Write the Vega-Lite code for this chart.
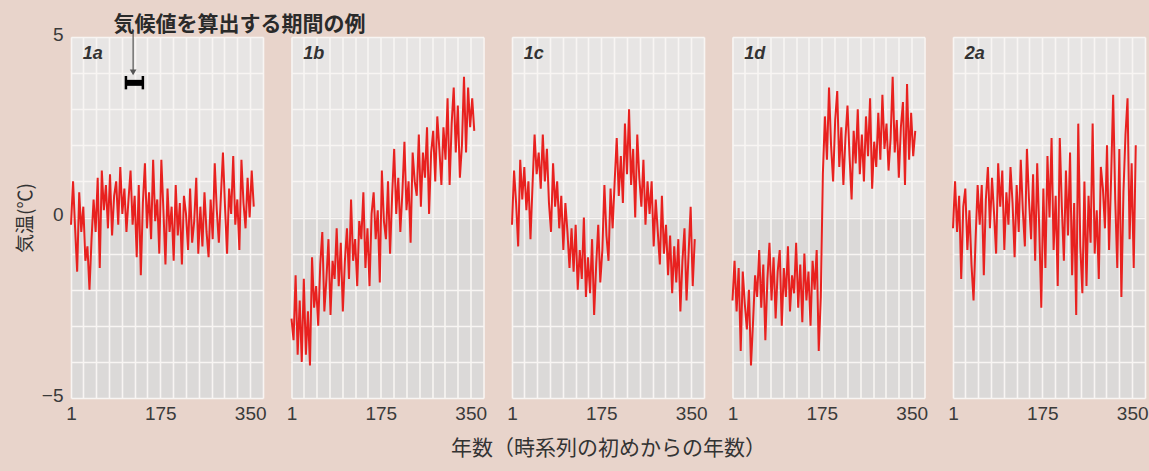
{
  "$schema": "https://vega.github.io/schema/vega-lite/v6.json",
  "background": "#e8d4cb",
  "padding": {"left": 16, "top": 14, "right": 20, "bottom": 30},
  "spacing": 28.5,
  "bounds": "flush",
  "config": {
    "view": {"stroke": null, "fill": {"gradient": "linear", "x1": 0, "y1": 0, "x2": 0, "y2": 1, "stops": [{"offset": 0, "color": "#e7e5e4"}, {"offset": 0.5, "color": "#e7e5e4"}, {"offset": 0.5, "color": "#dbd9d8"}, {"offset": 1, "color": "#dbd9d8"}]}},
    "axis": {"domain": false, "ticks": false, "grid": true, "gridColor": "#f8f5f3", "gridWidth": 1.6, "gridOpacity": 1, "tickCount": 100,
      "labelFont": "Liberation Sans Narrow, Liberation Sans", "labelFontSize": 19, "labelColor": "#3a3a3a", "labelOverlap": false, "labelFlush": false, "labelBound": false,
      "titleFont": "Noto Sans CJK JP", "titleColor": "#333333", "titleFontWeight": "normal"}
  },
  "datasets": {
    "t": [
      {"x":1,"a":-0.2,"b":-2.8,"c":-0.2,"d":-2.3,"e":-0.3},
      {"x":5,"a":1.0,"b":-3.4,"c":1.3,"d":-1.2,"e":1.0},
      {"x":9,"a":-0.3,"b":-1.6,"c":0.4,"d":-2.6,"e":-0.4},
      {"x":13,"a":-1.5,"b":-3.8,"c":-0.8,"d":-1.4,"e":0.6},
      {"x":17,"a":0.7,"b":-2.3,"c":1.6,"d":-3.7,"e":-1.7},
      {"x":21,"a":-0.4,"b":-4.0,"c":0.5,"d":-1.5,"e":0.3},
      {"x":25,"a":0.3,"b":-1.7,"c":1.4,"d":-2.4,"e":0.8},
      {"x":29,"a":-1.2,"b":-3.8,"c":0.2,"d":-3.1,"e":-0.9},
      {"x":33,"a":-0.8,"b":-2.6,"c":1.0,"d":-2.0,"e":0.2},
      {"x":37,"a":-2.0,"b":-4.1,"c":-0.6,"d":-4.1,"e":-1.3},
      {"x":41,"a":-0.6,"b":-1.1,"c":0.9,"d":-2.9,"e":-2.3},
      {"x":45,"a":0.5,"b":-2.5,"c":2.3,"d":-1.6,"e":-0.6},
      {"x":49,"a":-0.4,"b":-1.9,"c":1.2,"d":-2.2,"e":0.9},
      {"x":53,"a":1.1,"b":-3.0,"c":1.8,"d":-0.9,"e":-0.2},
      {"x":57,"a":-1.4,"b":-1.3,"c":0.8,"d":-2.5,"e":0.9},
      {"x":61,"a":1.3,"b":-0.4,"c":2.3,"d":-1.3,"e":-1.6},
      {"x":65,"a":0.2,"b":-2.6,"c":1.0,"d":-3.4,"e":0.5},
      {"x":69,"a":0.9,"b":-1.7,"c":1.9,"d":-1.7,"e":1.4},
      {"x":73,"a":-0.3,"b":-0.6,"c":0.4,"d":-0.7,"e":-0.3},
      {"x":77,"a":1.2,"b":-2.7,"c":-0.4,"d":-2.3,"e":1.1},
      {"x":81,"a":-0.5,"b":-1.2,"c":1.5,"d":-1.1,"e":0.1},
      {"x":85,"a":0.6,"b":-1.7,"c":0.3,"d":-2.8,"e":-1.0},
      {"x":89,"a":1.0,"b":-0.3,"c":1.0,"d":-1.5,"e":1.5},
      {"x":93,"a":-0.2,"b":-1.9,"c":-0.3,"d":-0.9,"e":0.3},
      {"x":97,"a":1.4,"b":-0.7,"c":0.6,"d":-3.0,"e":1.3},
      {"x":101,"a":0.1,"b":-2.6,"c":-0.9,"d":-1.4,"e":-0.9},
      {"x":105,"a":0.8,"b":-1.2,"c":0.4,"d":-2.2,"e":0.7},
      {"x":109,"a":-0.4,"b":-0.3,"c":-0.4,"d":-0.8,"e":-0.2},
      {"x":113,"a":0.5,"b":-1.7,"c":-1.4,"d":-2.6,"e":1.4},
      {"x":117,"a":1.3,"b":0.5,"c":-0.3,"d":-1.6,"e":0.4},
      {"x":121,"a":-0.2,"b":-1.2,"c":-1.5,"d":-2.1,"e":-1.1},
      {"x":125,"a":0.6,"b":-0.6,"c":-0.2,"d":-0.7,"e":0.9},
      {"x":129,"a":-1.1,"b":-1.9,"c":-2.0,"d":-2.5,"e":-0.4},
      {"x":133,"a":0.9,"b":-0.1,"c":-0.9,"d":-1.3,"e":1.6},
      {"x":137,"a":-1.6,"b":-0.6,"c":-1.7,"d":-2.9,"e":0.2},
      {"x":141,"a":0.4,"b":0.7,"c":0.0,"d":-1.0,"e":-0.8},
      {"x":145,"a":1.5,"b":-1.4,"c":-2.2,"d":-2.3,"e":1.9},
      {"x":149,"a":-0.3,"b":-0.3,"c":-1.1,"d":-1.5,"e":0.5},
      {"x":153,"a":0.7,"b":-1.9,"c":-2.1,"d":-3.0,"e":-0.6},
      {"x":157,"a":-0.6,"b":0.1,"c":-0.6,"d":-1.2,"e":1.2},
      {"x":161,"a":1.6,"b":0.7,"c":-2.7,"d":-2.0,"e":-1.2},
      {"x":165,"a":-0.1,"b":-0.6,"c":-1.3,"d":-0.9,"e":1.5},
      {"x":169,"a":0.5,"b":0.2,"c":-0.2,"d":-3.7,"e":-0.3},
      {"x":173,"a":-1.0,"b":-1.8,"c":-1.8,"d":-2.2,"e":-2.5},
      {"x":177,"a":1.6,"b":1.3,"c":-0.9,"d":1.2,"e":0.8},
      {"x":181,"a":0.2,"b":-0.1,"c":0.9,"d":2.8,"e":-1.4},
      {"x":185,"a":-1.3,"b":-0.6,"c":-0.5,"d":1.6,"e":1.7},
      {"x":189,"a":0.8,"b":1.0,"c":-1.2,"d":3.6,"e":0.0},
      {"x":193,"a":-0.4,"b":-1.0,"c":0.8,"d":2.0,"e":2.2},
      {"x":197,"a":0.3,"b":0.6,"c":-0.3,"d":1.0,"e":-0.9},
      {"x":201,"a":-1.2,"b":1.9,"c":1.0,"d":2.7,"e":0.6},
      {"x":205,"a":0.9,"b":0.1,"c":2.2,"d":3.5,"e":-1.9},
      {"x":209,"a":-0.5,"b":1.1,"c":0.6,"d":1.4,"e":2.2},
      {"x":213,"a":0.4,"b":-0.4,"c":1.7,"d":2.5,"e":0.3},
      {"x":217,"a":-1.3,"b":0.7,"c":0.4,"d":0.9,"e":-1.2},
      {"x":221,"a":0.6,"b":2.1,"c":2.6,"d":2.2,"e":1.3},
      {"x":225,"a":0.1,"b":0.2,"c":1.2,"d":3.1,"e":-0.5},
      {"x":229,"a":-0.9,"b":1.0,"c":3.0,"d":1.7,"e":1.8},
      {"x":233,"a":0.8,"b":-0.7,"c":0.9,"d":0.5,"e":-1.6},
      {"x":237,"a":-0.7,"b":1.8,"c":1.9,"d":2.4,"e":0.4},
      {"x":241,"a":-0.1,"b":1.0,"c":0.0,"d":1.5,"e":-2.7},
      {"x":245,"a":1.1,"b":0.6,"c":2.3,"d":3.0,"e":2.6},
      {"x":249,"a":-1.0,"b":2.3,"c":1.1,"d":1.2,"e":-0.8},
      {"x":253,"a":0.3,"b":0.3,"c":0.3,"d":2.3,"e":-2.1},
      {"x":257,"a":-0.8,"b":1.8,"c":1.6,"d":1.0,"e":1.0},
      {"x":261,"a":0.7,"b":1.1,"c":-0.2,"d":2.8,"e":-1.9},
      {"x":265,"a":-0.4,"b":2.5,"c":1.0,"d":1.7,"e":0.6},
      {"x":269,"a":-1.1,"b":0.1,"c":0.1,"d":3.3,"e":-0.7},
      {"x":273,"a":0.5,"b":1.8,"c":1.0,"d":0.8,"e":2.6},
      {"x":277,"a":-0.6,"b":2.4,"c":-0.8,"d":2.1,"e":-1.0},
      {"x":281,"a":1.5,"b":1.0,"c":0.5,"d":1.4,"e":0.2},
      {"x":285,"a":0.2,"b":2.8,"c":-0.4,"d":2.9,"e":-1.7},
      {"x":289,"a":-0.7,"b":1.9,"c":-1.3,"d":1.6,"e":1.4},
      {"x":293,"a":0.6,"b":0.9,"c":0.6,"d":3.4,"e":0.8},
      {"x":297,"a":1.8,"b":2.5,"c":-1.0,"d":1.9,"e":-0.3},
      {"x":301,"a":0.3,"b":1.6,"c":-0.2,"d":2.6,"e":2.0},
      {"x":305,"a":-1.0,"b":3.3,"c":-1.6,"d":1.3,"e":-0.9},
      {"x":309,"a":0.8,"b":0.9,"c":-0.5,"d":2.2,"e":1.1},
      {"x":313,"a":0.1,"b":2.6,"c":-2.1,"d":3.9,"e":3.4},
      {"x":317,"a":1.7,"b":3.6,"c":-0.8,"d":1.8,"e":0.5},
      {"x":321,"a":-0.2,"b":1.8,"c":-1.8,"d":2.7,"e":-1.4},
      {"x":325,"a":0.5,"b":3.1,"c":-0.6,"d":1.1,"e":1.9},
      {"x":329,"a":-0.9,"b":1.1,"c":-2.6,"d":2.5,"e":-2.2},
      {"x":333,"a":1.6,"b":2.0,"c":-1.2,"d":3.2,"e":0.7},
      {"x":337,"a":0.4,"b":3.9,"c":-0.3,"d":0.9,"e":2.3},
      {"x":341,"a":-0.3,"b":1.8,"c":-2.3,"d":3.7,"e":3.3},
      {"x":345,"a":1.1,"b":3.6,"c":-1.0,"d":1.6,"e":-0.6},
      {"x":349,"a":0.0,"b":2.5,"c":0.3,"d":2.9,"e":1.5},
      {"x":353,"a":1.3,"b":3.3,"c":-1.9,"d":1.7,"e":-1.4},
      {"x":357,"a":0.3,"b":2.4,"c":-0.6,"d":2.4,"e":2.0}
    ]
  },
  "hconcat": [
    {
      "width": 192, "height": 361,
      "layer": [
        {"data": {"name": "t"}, "mark": {"type": "line", "color": "#e8211f", "strokeWidth": 2},
         "encoding": {
           "x": {"field": "x", "type": "quantitative", "scale": {"domain": [1, 375], "nice": false, "zero": false},
                 "axis": {"values": [1,25,50,75,100,125,150,175,200,225,250,275,300,325,350,375], "tickCount": 100, "format": "d", "labelExpr": "datum.value == 1 || datum.value == 175 || datum.value == 350 ? datum.label : ''", "labelPadding": 6, "title": null}},
           "y": {"field": "a", "type": "quantitative", "scale": {"domain": [-5, 5], "nice": false, "zero": false},
                 "axis": {"values": [-5,-4,-3,-2,-1,0,1,2,3,4,5], "tickCount": 100, "format": "d", "labelExpr": "datum.value == 0 || abs(datum.value) == 5 ? datum.label : ''", "labelPadding": 8, "labelOffset": -3, "title": "気温(℃)", "titleFontSize": 19, "titlePadding": 6}}}},
        {"data": {"values": [{"label": "1a"}]}, "mark": {"type": "text", "align": "left", "baseline": "middle", "font": "Liberation Sans", "fontSize": 18, "fontStyle": "italic", "fontWeight": "bold", "color": "#333333"},
         "encoding": {"x": {"datum": 24}, "y": {"datum": 4.53}, "text": {"field": "label"}}},
        {"data": {"values": [{"label": "気候値を算出する期間の例"}]}, "mark": {"type": "text", "align": "left", "baseline": "middle", "font": "Noto Sans CJK JP", "fontSize": 21, "fontWeight": "bold", "color": "#2a2a2a"},
         "encoding": {"x": {"datum": 84}, "y": {"datum": 5.33}, "text": {"field": "label"}}},
        {"data": {"values": [{}]}, "mark": {"type": "rule", "color": "#555555", "strokeWidth": 1.2},
         "encoding": {"x": {"datum": 122}, "y": {"datum": 5.12}, "y2": {"datum": 4.0}}},
        {"data": {"values": [{}]}, "mark": {"type": "point", "shape": "triangle-down", "filled": true, "size": 45, "color": "#555555", "opacity": 1},
         "encoding": {"x": {"datum": 122}, "y": {"datum": 4.02}}},
        {"data": {"values": [{}]}, "mark": {"type": "rule", "color": "#000000", "strokeWidth": 6},
         "encoding": {"x": {"datum": 108}, "x2": {"datum": 141}, "y": {"datum": 3.73}}},
        {"data": {"values": [{}]}, "mark": {"type": "rule", "color": "#000000", "strokeWidth": 2.5},
         "encoding": {"x": {"datum": 108}, "y": {"datum": 3.55}, "y2": {"datum": 3.92}}},
        {"data": {"values": [{}]}, "mark": {"type": "rule", "color": "#000000", "strokeWidth": 2.5},
         "encoding": {"x": {"datum": 141}, "y": {"datum": 3.55}, "y2": {"datum": 3.92}}}
      ]
    },
    {
      "width": 192, "height": 361,
      "layer": [
        {"data": {"name": "t"}, "mark": {"type": "line", "color": "#e8211f", "strokeWidth": 2},
         "encoding": {
           "x": {"field": "x", "type": "quantitative", "scale": {"domain": [1, 375], "nice": false, "zero": false},
                 "axis": {"values": [1,25,50,75,100,125,150,175,200,225,250,275,300,325,350,375], "tickCount": 100, "format": "d", "labelExpr": "datum.value == 1 || datum.value == 175 || datum.value == 350 ? datum.label : ''", "labelPadding": 6, "title": null}},
           "y": {"field": "b", "type": "quantitative", "scale": {"domain": [-5, 5], "nice": false, "zero": false},
                 "axis": {"values": [-5,-4,-3,-2,-1,0,1,2,3,4,5], "tickCount": 100, "labels": false, "title": null}}}},
        {"data": {"values": [{"label": "1b"}]}, "mark": {"type": "text", "align": "left", "baseline": "middle", "font": "Liberation Sans", "fontSize": 18, "fontStyle": "italic", "fontWeight": "bold", "color": "#333333"},
         "encoding": {"x": {"datum": 24}, "y": {"datum": 4.53}, "text": {"field": "label"}}}
      ]
    },
    {
      "width": 192, "height": 361,
      "layer": [
        {"data": {"name": "t"}, "mark": {"type": "line", "color": "#e8211f", "strokeWidth": 2},
         "encoding": {
           "x": {"field": "x", "type": "quantitative", "scale": {"domain": [1, 375], "nice": false, "zero": false},
                 "axis": {"values": [1,25,50,75,100,125,150,175,200,225,250,275,300,325,350,375], "tickCount": 100, "format": "d", "labelExpr": "datum.value == 1 || datum.value == 175 || datum.value == 350 ? datum.label : ''", "labelPadding": 6, "title": "年数（時系列の初めからの年数）", "titleFontSize": 21, "titlePadding": 14}},
           "y": {"field": "c", "type": "quantitative", "scale": {"domain": [-5, 5], "nice": false, "zero": false},
                 "axis": {"values": [-5,-4,-3,-2,-1,0,1,2,3,4,5], "tickCount": 100, "labels": false, "title": null}}}},
        {"data": {"values": [{"label": "1c"}]}, "mark": {"type": "text", "align": "left", "baseline": "middle", "font": "Liberation Sans", "fontSize": 18, "fontStyle": "italic", "fontWeight": "bold", "color": "#333333"},
         "encoding": {"x": {"datum": 24}, "y": {"datum": 4.53}, "text": {"field": "label"}}}
      ]
    },
    {
      "width": 192, "height": 361,
      "layer": [
        {"data": {"name": "t"}, "mark": {"type": "line", "color": "#e8211f", "strokeWidth": 2},
         "encoding": {
           "x": {"field": "x", "type": "quantitative", "scale": {"domain": [1, 375], "nice": false, "zero": false},
                 "axis": {"values": [1,25,50,75,100,125,150,175,200,225,250,275,300,325,350,375], "tickCount": 100, "format": "d", "labelExpr": "datum.value == 1 || datum.value == 175 || datum.value == 350 ? datum.label : ''", "labelPadding": 6, "title": null}},
           "y": {"field": "d", "type": "quantitative", "scale": {"domain": [-5, 5], "nice": false, "zero": false},
                 "axis": {"values": [-5,-4,-3,-2,-1,0,1,2,3,4,5], "tickCount": 100, "labels": false, "title": null}}}},
        {"data": {"values": [{"label": "1d"}]}, "mark": {"type": "text", "align": "left", "baseline": "middle", "font": "Liberation Sans", "fontSize": 18, "fontStyle": "italic", "fontWeight": "bold", "color": "#333333"},
         "encoding": {"x": {"datum": 24}, "y": {"datum": 4.53}, "text": {"field": "label"}}}
      ]
    },
    {
      "width": 192, "height": 361,
      "layer": [
        {"data": {"name": "t"}, "mark": {"type": "line", "color": "#e8211f", "strokeWidth": 2},
         "encoding": {
           "x": {"field": "x", "type": "quantitative", "scale": {"domain": [1, 375], "nice": false, "zero": false},
                 "axis": {"values": [1,25,50,75,100,125,150,175,200,225,250,275,300,325,350,375], "tickCount": 100, "format": "d", "labelExpr": "datum.value == 1 || datum.value == 175 || datum.value == 350 ? datum.label : ''", "labelPadding": 6, "title": null}},
           "y": {"field": "e", "type": "quantitative", "scale": {"domain": [-5, 5], "nice": false, "zero": false},
                 "axis": {"values": [-5,-4,-3,-2,-1,0,1,2,3,4,5], "tickCount": 100, "labels": false, "title": null}}}},
        {"data": {"values": [{"label": "2a"}]}, "mark": {"type": "text", "align": "left", "baseline": "middle", "font": "Liberation Sans", "fontSize": 18, "fontStyle": "italic", "fontWeight": "bold", "color": "#333333"},
         "encoding": {"x": {"datum": 24}, "y": {"datum": 4.53}, "text": {"field": "label"}}}
      ]
    }
  ]
}
